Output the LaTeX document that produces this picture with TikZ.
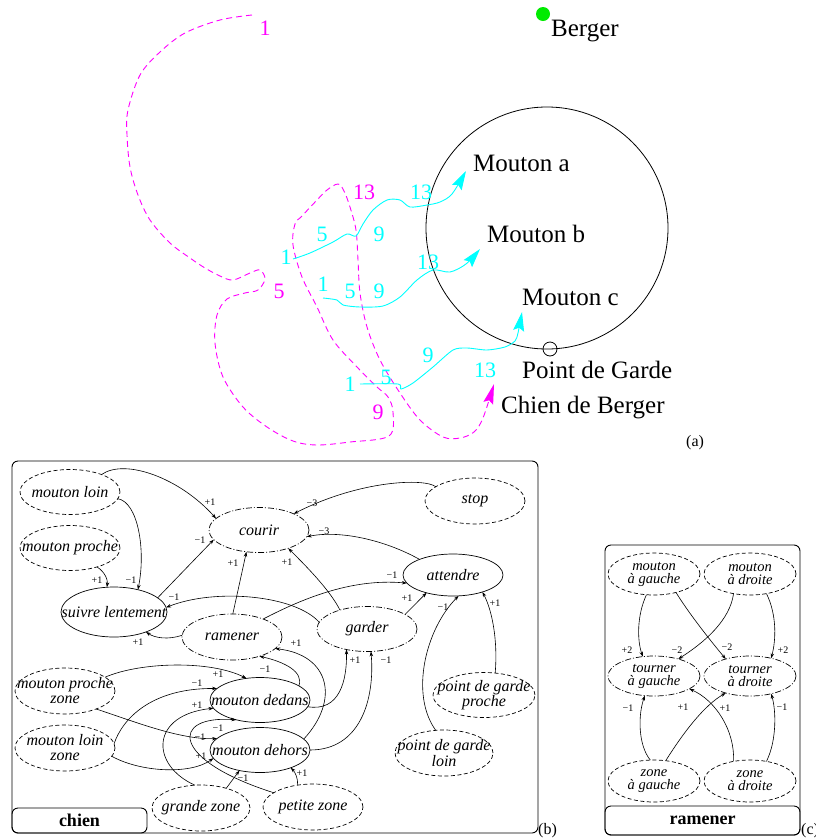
\documentclass[tikz,border=0pt]{standalone}
\usepackage{fontspec}
\setmainfont{Liberation Serif}
\usetikzlibrary{arrows.meta,shapes.geometric}
\definecolor{mag}{RGB}{255,0,255}
\definecolor{cya}{RGB}{0,255,255}
\definecolor{grn}{RGB}{0,235,0}
\newcommand\cl[1]{\hbox to 0pt{\hss#1\hss}}
\newcommand\tl[3][13pt]{\vbox{\baselineskip=#1\cl{#2}\cl{#3}}}
\newcounter{lc}
\newcommand\lb[3]{\stepcounter{lc}\node[lab] (l\thelc) at (#1,#2) {#3};}
\newcommand\nm[4]{\stepcounter{lc}\node[num,#1] (n\thelc) at (#2,#3) {#4};}
\begin{document}
\begin{tikzpicture}[x=1pt,y=-1pt,
 base/.style={ellipse, inner sep=0pt, outer sep=0pt, minimum width=100pt, minimum height=45pt, font=\fontsize{16}{16}\selectfont\itshape, line width=0.7pt},
 dsh/.style={base, draw, dash pattern=on 4pt off 2.5pt},
 dd/.style={base, draw, dash pattern=on 6pt off 2pt on 1pt off 2pt},
 sol/.style={base, draw},
 rb/.style={minimum width=92pt, minimum height=42pt, font=\fontsize{14.5}{14.5}\selectfont\itshape},
 lab/.style={font=\fontsize{10}{10}\selectfont, inner sep=0pt},
 ar/.style={-{Stealth[length=5pt,width=3.5pt]}, line width=0.6pt},
 big/.style={-{Stealth[length=19pt,width=11pt,inset=3pt]}},
 num/.style={font=\fontsize{22}{22}\selectfont, inner sep=0pt},
 txt/.style={font=\fontsize{25}{25}\selectfont, inner sep=0pt, anchor=base west},
 frame/.style={draw, rounded corners=6pt, line width=0.9pt}
]
\useasboundingbox (0,0) rectangle (816,839);

% ---------------- part (a) ----------------
\fill[grn] (543,14) circle (7pt);
\node[txt] (berger) at (551,36) {Berger};
\draw[line width=0.8pt] (547,228) circle (121pt);
\draw[line width=0.8pt] (550,349) circle (7pt);
\node[txt] (ma) at (473,171) {Mouton a};
\node[txt] (mb) at (487,242) {Mouton b};
\node[txt] (mc) at (522,305) {Mouton c};
\node[txt] (pg) at (522,378) {Point de Garde};
\node[txt] (cb) at (501,413) {Chien de Berger};
\node[font=\fontsize{16}{16}\selectfont, inner sep=0pt, anchor=base west] (la) at (686,446) {(a)};

% dog path
\draw[mag, line width=0.9pt, dash pattern=on 6pt off 4pt, -{Stealth[length=20pt,width=10pt,inset=3pt]}]
 plot[smooth, tension=0.55] coordinates {(252,15) (220,20) (185,33) (160,52) (140,75) (128,110) (127,135) (130,167) (138,195) (150,220) (170,243) (190,258) (205,268) (220,276) (233,280) (250,273) (260,270) (265,279) (258,290) (245,293) (227,299) (217,315) (215,343) (223,377) (243,407) (267,427) (293,441) (317,445) (350,442) (389,436) (393,412) (388,397) (377,387) (357,367) (333,340) (317,307) (302,277) (293,245) (295,224) (302,216) (317,200) (327,190) (338,184) (344,191) (350,207) (356,230) (358,260) (360,293) (367,327) (380,360) (400,393) (420,420) (443,437) (460,438) (474,432) (483,418) (494,384)};
\nm{mag}{265}{28}{1}
\nm{mag}{279}{291}{5}
\nm{mag}{378}{412}{9}
\nm{mag}{364}{192}{13}

% sheep paths
\draw[cya, line width=0.9pt, big]
 plot[smooth, tension=0.5] coordinates {(293,259) (310,253) (333,242) (347,234) (356,236) (363,224) (373,210) (387,200) (400,200) (410,207) (427,205) (440,202) (452,194) (466,171)};
\draw[cya, line width=0.9pt, big]
 plot[smooth, tension=0.5] coordinates {(323,298) (337,300) (343,305) (360,307) (383,306) (400,297) (417,280) (433,270) (450,272) (466,264) (480,249)};
\draw[cya, line width=0.9pt, big]
 plot[smooth, tension=0.45] coordinates {(360,384) (398,384) (401,389) (413,383) (433,367) (453,350) (467,348) (487,350) (505,347) (515,341) (518,333) (522,312)};
\nm{cya}{286}{257}{1}
\nm{cya}{322}{234}{5}
\nm{cya}{379}{234}{9}
\nm{cya}{421}{192}{13}
\nm{cya}{323}{284}{1}
\nm{cya}{350}{291}{5}
\nm{cya}{379}{291}{9}
\nm{cya}{428}{262}{13}
\nm{cya}{350}{384}{1}
\nm{cya}{386}{377}{5}
\nm{cya}{428}{355}{9}
\nm{cya}{485}{370}{13}

% ---------------- part (b) chien ----------------
\draw[frame] (12,461) rectangle (538,833);
\node[frame, minimum width=135pt, minimum height=25pt, inner sep=0pt, font=\bfseries\fontsize{18}{18}\selectfont] (chien) at (79.5,820.5) {chien};
\node[font=\fontsize{16}{16}\selectfont, inner sep=0pt, anchor=base west] (lb) at (538,834) {(b)};

\node[dsh] (ml) at (70,492) {\cl{mouton loin}};
\node[dsh] (mp) at (70,548) {\cl{mouton proche}};
\node[sol, minimum width=106pt, minimum height=50pt] (sl) at (114,612) {\cl{suivre lentement}};
\node[dd] (cou) at (259,530) {\cl{courir}};
\node[dsh, minimum height=46pt] (stp) at (475,501) {\cl{stop}};
\node[sol, minimum height=42pt] (att) at (453,575) {\cl{attendre}};
\node[dd] (gar) at (367,629) {\cl{garder}};
\node[dd, minimum height=46pt] (ram) at (232,637) {\cl{ramener}};
\node[sol] (mde) at (260,700) {\cl{mouton dedans}};
\node[sol] (mdh) at (260,750) {\cl{mouton dehors}};
\node[dsh, minimum height=46pt] (mpz) at (65,691) {\tl[15pt]{mouton proche}{zone}};
\node[dsh, minimum height=46pt] (mlz) at (65,748) {\tl[15pt]{mouton loin}{zone}};
\node[dsh, minimum height=46pt, minimum width=98pt] (gz) at (201,808) {\cl{grande zone}};
\node[dsh, minimum height=46pt] (pz) at (313,807) {\cl{petite zone}};
\node[dsh, minimum width=102pt] (pgp) at (484,695) {\tl[12pt]{point de garde}{proche}};
\node[dsh, minimum width=98pt, minimum height=46pt] (pgl) at (444,753) {\tl[12pt]{point de garde}{loin}};

\draw[ar] (ml.29) .. controls (125,458) and (180,478) .. (cou.165);
\draw[ar] (ml.-8) .. controls (138,502) and (146,550) .. (sl.43);
\draw[ar] (mp.-35) .. controls (105,572) and (108,580) .. (sl.106);
\draw[ar] (sl.18) -- (cou.192);
\draw[ar] (ram.178) .. controls (168,640) and (155,638) .. (sl.-32);
\draw[ar] (gar.172) .. controls (295,595) and (215,588) .. (sl.5);
\draw[ar] (ram.88) -- (cou.-120);
\draw[ar] (gar.145) .. controls (330,590) and (305,565) .. (cou.-32);
\draw[ar] (stp.160) .. controls (425,478) and (360,480) .. (cou.25);
\draw[ar] (att.155) .. controls (385,540) and (340,530) .. (cou.-8);
\draw[ar] (ram.30) .. controls (300,600) and (350,578) .. (att.190);
\draw[ar] (gar.21) -- (att.214);
\draw[ar] (pgl.110) .. controls (410,695) and (425,630) .. (att.-75);
\draw[ar] (pgp.63) .. controls (498,640) and (492,610) .. (att.-30);
\draw[ar] (mde.-8) .. controls (340,712) and (347,680) .. (gar.-135);
\draw[ar] (mdh.0) .. controls (360,750) and (375,700) .. (gar.-80);
\draw[ar] (mde.20) .. controls (304,672) and (285,662) .. (ram.-35);
\draw[ar] (mdh.14) .. controls (340,700) and (330,655) .. (ram.-15);
\draw[ar] (mpz.19) .. controls (140,662) and (210,660) .. (mde.122);
\draw[ar] (mpz.-30) .. controls (130,720) and (180,740) .. (mdh.165);
\draw[ar] (mlz.5) .. controls (122,720) and (150,688) .. (mde.165);
\draw[ar] (mlz.-10) .. controls (140,772) and (190,775) .. (mdh.-170);
\draw[ar] (gz.105) .. controls (150,765) and (150,715) .. (mde.-170);
\draw[ar] (pz.160) .. controls (170,760) and (170,715) .. (mde.-140);
\draw[ar] (gz.38) -- (mdh.-135);
\draw[ar] (pz.125) .. controls (298,778) and (295,772) .. (mdh.-30);

\lb{210}{502}{+1}
\lb{131}{580}{−1}
\lb{97}{580}{+1}
\lb{200}{540}{−1}
\lb{138}{642}{+1}
\lb{174}{597}{−1}
\lb{233}{563}{+1}
\lb{287}{562}{+1}
\lb{312}{503}{−3}
\lb{324}{531}{−3}
\lb{392}{575}{−1}
\lb{407}{598}{+1}
\lb{443}{607}{−1}
\lb{495}{603}{+1}
\lb{355}{660}{+1}
\lb{386}{660}{−1}
\lb{265}{669}{−1}
\lb{296}{643}{+1}
\lb{218}{674}{+1}
\lb{200}{737}{−1}
\lb{197}{683}{−1}
\lb{201}{756}{+1}
\lb{197}{705}{+1}
\lb{218}{728}{−1}
\lb{243}{778}{−1}
\lb{302}{773}{+1}

% ---------------- part (c) ramener ----------------
\draw[frame] (605,545) rectangle (800,835);
\node[frame, minimum width=195pt, minimum height=29pt, inner sep=0pt, font=\bfseries\fontsize{18}{18}\selectfont] (ramlab) at (702.5,820.5) {ramener};
\node[font=\fontsize{16}{16}\selectfont, inner sep=0pt, anchor=base west] (lc) at (801,834) {(c)};

\node[dsh, rb] (mg) at (654,574) {\tl{mouton}{à gauche}};
\node[dsh, rb] (md) at (750,574) {\tl{mouton}{à droite}};
\node[dd, rb, minimum height=40pt] (tg) at (654,676) {\tl{tourner}{à gauche}};
\node[dd, rb, minimum height=40pt] (td) at (750,676) {\tl{tourner}{à droite}};
\node[dsh, rb] (zg) at (654,781) {\tl{zone}{à gauche}};
\node[dsh, rb] (zd) at (750,781) {\tl{zone}{à droite}};

\draw[ar] (mg.-110) .. controls (637,615) and (637,640) .. (tg.120);
\draw[ar] (mg.-40) .. controls (690,615) and (710,640) .. (td.145);
\draw[ar] (md.-130) .. controls (730,620) and (705,642) .. (tg.35);
\draw[ar] (md.-50) .. controls (777,615) and (776,640) .. (td.40);
\draw[ar] (zg.100) .. controls (638,745) and (638,715) .. (tg.-115);
\draw[ar] (zg.60) .. controls (685,730) and (705,705) .. (td.-145);
\draw[ar] (zd.130) .. controls (735,730) and (715,700) .. (tg.-20);
\draw[ar] (zd.50) .. controls (777,740) and (776,710) .. (td.-40);

\lb{627}{650}{+2}
\lb{677}{650}{−2}
\lb{727}{647}{−2}
\lb{783}{650}{+2}
\lb{628}{708}{−1}
\lb{683}{707}{+1}
\lb{725}{708}{+1}
\lb{782}{707}{−1}
\end{tikzpicture}
\end{document}
